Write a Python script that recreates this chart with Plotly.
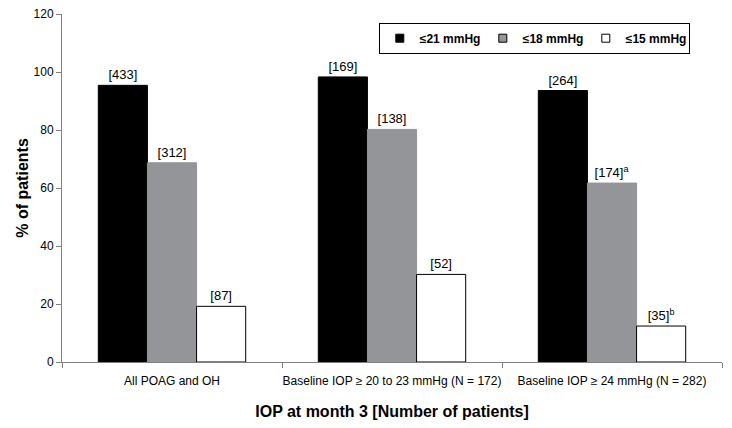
import plotly.graph_objects as go

categories = ["All POAG and OH", "Baseline IOP \u2265 20 to 23 mmHg (N = 172)", "Baseline IOP \u2265 24 mmHg (N = 282)"]
series_names = ["\u226421 mmHg", "\u226418 mmHg", "\u226415 mmHg"]
pct_21 = [95.4, 98.3, 93.6]
pct_18 = [68.7, 80.2, 61.7]
pct_15 = [19.2, 30.2, 12.4]
labels_21 = ["[433]", "[169]", "[264]"]
labels_18 = ["[312]", "[138]", "[174]<sup>a</sup>"]
labels_15 = ["[87]", "[52]", "[35]<sup>b</sup>"]
y_ticks = [0, 20, 40, 60, 80, 100, 120]

fills = ["#000000", "#939598", "#ffffff"]
lines = ["#000000", "#939598", "#000000"]
FONT = "Arial, Liberation Sans, sans-serif"

fig = go.Figure()
for name, vals, labs, fc, lc in zip(series_names, [pct_21, pct_18, pct_15],
                                     [labels_21, labels_18, labels_15], fills, lines):
    fig.add_trace(go.Bar(
        x=categories, y=vals, name=name, text=labs,
        textposition="outside", textfont=dict(size=13, color="#000000", family=FONT),
        marker=dict(color=fc, line=dict(color=lc, width=1)),
        showlegend=False, cliponaxis=False,
    ))
    fig.add_trace(go.Scatter(
        x=[None], y=[None], mode="markers", name=name,
        marker=dict(symbol="square", size=8, color=fc, line=dict(color="#000000", width=1)),
        showlegend=True,
    ))

fig.update_layout(
    width=732, height=428,
    margin=dict(l=62, r=10, t=14, b=66, autoexpand=False),
    paper_bgcolor="white", plot_bgcolor="white",
    barmode="group", bargap=0.33, bargroupgap=0,
    font=dict(family=FONT, size=12, color="#000000"),
    uniformtext=dict(mode=False),
    legend=dict(
        orientation="h", x=0.48, y=0.975, xanchor="left", yanchor="top",
        bordercolor="#000000", borderwidth=1, bgcolor="white",
        font=dict(size=12, family=FONT, weight="bold"),
        itemwidth=30, entrywidth=58, entrywidthmode="pixels",
        tracegroupgap=0,
    ),
    xaxis=dict(
        showline=True, linecolor="#808080", linewidth=1,
        ticks="outside", tickson="boundaries", ticklen=5, tickcolor="#808080",
        tickfont=dict(size=12, family=FONT), tickangle=0, automargin=False,
        ticklabelstandoff=8,
        title=dict(text="<b>IOP at month 3 [Number of patients]</b>",
                   font=dict(size=16, family=FONT), standoff=18),
        showgrid=False,
    ),
    yaxis=dict(
        range=[0, 120], tickvals=y_ticks,
        showline=True, linecolor="#808080", linewidth=1,
        ticks="outside", ticklen=5, tickcolor="#808080",
        tickfont=dict(size=12, family=FONT), automargin=False,
        title=dict(text="<b>% of patients</b>", font=dict(size=16, family=FONT), standoff=0),
        showgrid=False, zeroline=False,
    ),
)

fig.write_html("out.html", config={"displayModeBar": False},
               post_script="document.body.style.margin='0';")
